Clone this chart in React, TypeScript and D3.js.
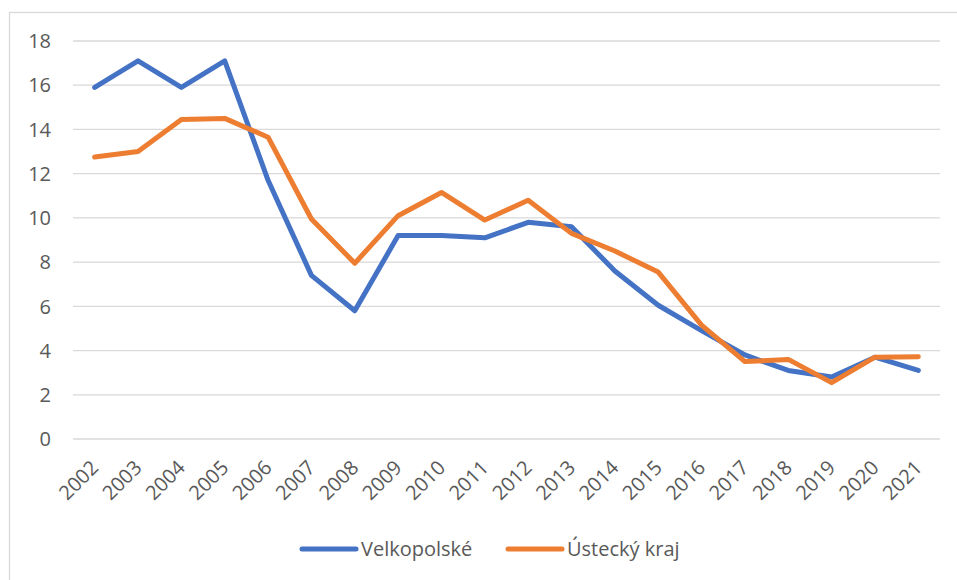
import React, { useRef, useEffect } from "react";
import * as d3 from "d3";

const years = [
    "2002", "2003", "2004", "2005", "2006", "2007", "2008", "2009", "2010", "2011",
    "2012", "2013", "2014", "2015", "2016", "2017", "2018", "2019", "2020", "2021",
];
const velkopolske = [
    15.9, 17.1, 15.9, 17.1, 11.7, 7.4, 5.8, 9.2, 9.2, 9.1,
    9.8, 9.6, 7.6, 6.05, 4.9, 3.8, 3.1, 2.8, 3.7, 3.1,
];
const ustecky = [
    12.75, 13.0, 14.45, 14.5, 13.65, 9.95, 7.95, 10.1, 11.15, 9.9,
    10.8, 9.3, 8.5, 7.55, 5.15, 3.5, 3.6, 2.55, 3.7, 3.72,
];
const yTicks = [0, 2, 4, 6, 8, 10, 12, 14, 16, 18];
const seriesNames = ["Velkopolské", "Ústecký kraj"];
const colors = ["#4472C4", "#ED7D31"];

const App: React.FC = () => {
    const ref = useRef<SVGSVGElement | null>(null);

    useEffect(() => {
        const svg = d3.select(ref.current);
        svg.selectAll("*").remove();

        const font = "'Open Sans', sans-serif";
        const fontSize = "20px";
        const left = 73;
        const right = 940;
        const top = 41;
        const bottom = 439;

        // chart frame (only top and left edges visible in the crop)
        svg.append("rect")
            .attr("x", 9.5)
            .attr("y", 12.5)
            .attr("width", 1200)
            .attr("height", 1200)
            .attr("fill", "#fff")
            .attr("stroke", "#d9d9d9")
            .attr("stroke-width", 1.3);

        const x = d3.scaleBand<string>().domain(years).range([left, right]);
        const y = d3.scaleLinear().domain([0, 18]).range([bottom, top]);
        const cx = (yr: string) => (x(yr) ?? 0) + x.bandwidth() / 2;

        svg.append("g")
            .selectAll("line")
            .data(yTicks)
            .enter()
            .append("line")
            .attr("x1", left)
            .attr("x2", right)
            .attr("y1", (d) => y(d))
            .attr("y2", (d) => y(d))
            .attr("stroke", "#d9d9d9")
            .attr("stroke-width", 1.3);

        svg.append("g")
            .selectAll("text")
            .data(yTicks)
            .enter()
            .append("text")
            .attr("x", 51)
            .attr("y", (d) => y(d))
            .attr("dy", "0.36em")
            .attr("text-anchor", "end")
            .style("font-family", font)
            .style("font-size", fontSize)
            .attr("fill", "#595959")
            .text((d) => d);

        svg.append("g")
            .selectAll("text")
            .data(years)
            .enter()
            .append("text")
            .attr("transform", (d) => `translate(${cx(d) + 5},${469}) rotate(-45)`)
            .attr("text-anchor", "end")
            .style("font-family", font)
            .style("font-size", fontSize)
            .attr("fill", "#595959")
            .text((d) => d);

        const line = d3
            .line<number>()
            .x((_, i) => cx(years[i]))
            .y((d) => y(d))
            .curve(d3.curveLinear);

        [velkopolske, ustecky].forEach((s, i) => {
            svg.append("path")
                .datum(s)
                .attr("fill", "none")
                .attr("stroke", colors[i])
                .attr("stroke-width", 5)
                .attr("stroke-linejoin", "round")
                .attr("stroke-linecap", "round")
                .attr("d", line);
        });

        // legend
        const legendX = [302, 508];
        seriesNames.forEach((name, i) => {
            const g = svg.append("g").attr("transform", `translate(${legendX[i]},549)`);
            g.append("line")
                .attr("x1", 0)
                .attr("x2", 54)
                .attr("stroke", colors[i])
                .attr("stroke-width", 5)
                .attr("stroke-linecap", "round");
            g.append("text")
                .attr("x", 59)
                .attr("dy", "0.36em")
                .style("font-family", font)
                .style("font-size", fontSize)
                .attr("fill", "#595959")
                .text(name);
        });
    }, []);

    return (
        <div>
            <svg
                ref={ref}
                width={957}
                height={580}
                style={{ position: "absolute", left: 0, top: 0, background: "#fff" }}
            ></svg>
        </div>
    );
};

export default App;
